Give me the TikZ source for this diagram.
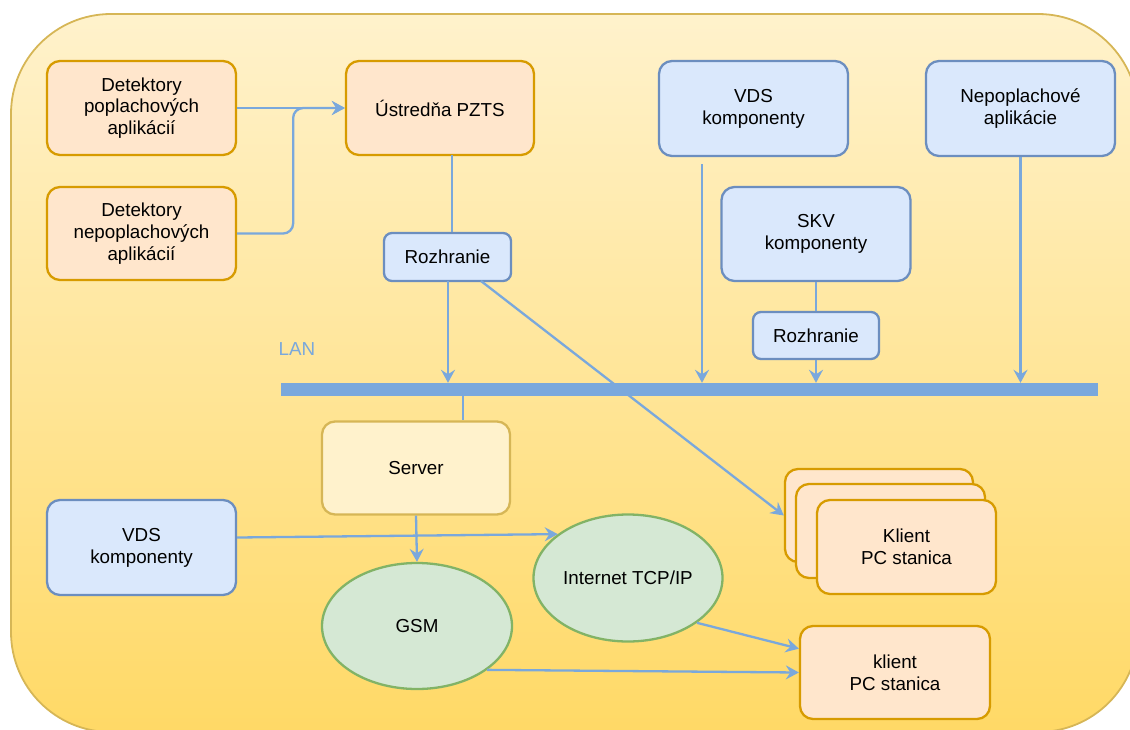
\documentclass[tikz,border=0pt]{standalone}
\usepackage{fontspec}
\setmainfont{Liberation Sans}
\usetikzlibrary{arrows.meta,calc,shapes.geometric}

\definecolor{bgtop}{HTML}{FFF2CC}
\definecolor{bgbottom}{HTML}{FFD966}
\definecolor{bgline}{HTML}{D6B656}
\definecolor{orfill}{HTML}{FFE6CC}
\definecolor{orline}{HTML}{D79B00}
\definecolor{blfill}{HTML}{DAE8FC}
\definecolor{blline}{HTML}{6C8EBF}
\definecolor{grfill}{HTML}{D5E8D4}
\definecolor{grline}{HTML}{82B366}
\definecolor{srvfill}{HTML}{FFF2CC}
\definecolor{srvline}{HTML}{D6B656}
\definecolor{linkc}{HTML}{7AA8DC}

\begin{document}
\begin{tikzpicture}[x=1pt, y=-1pt,
  txt/.style={font=\fontsize{18.8}{21.8}\selectfont, align=center},
  box/.style={txt, draw, line width=2.3pt, rounded corners=13pt, inner sep=0pt},
  smallbox/.style={box, rounded corners=8pt},
  sz/.style 2 args={minimum width=#1pt, minimum height=#2pt},
  orangebox/.style={box, fill=orfill, draw=orline},
  bluebox/.style={box, fill=blfill, draw=blline},
  bluesmall/.style={smallbox, fill=blfill, draw=blline},
  serverbox/.style={box, fill=srvfill, draw=srvline},
  cloud/.style={txt, ellipse, draw=grline, fill=grfill, line width=2.3pt, inner sep=0pt},
  conn/.style={draw=linkc, line width=2.3pt},
  arr/.style={conn, -{Stealth[length=13pt, width=14pt, inset=4.5pt]}}
]
\clip (0,0) rectangle (1130,729);

% container with vertical gradient
\path[draw=bgline, line width=1.8pt, top color=bgtop, bottom color=bgbottom,
      rounded corners=100pt] (11,14) rectangle (1138,732);

% detectors and alarm panel
\node[orangebox, sz={189}{94}] (det1) at (141.5,108) {Detektory\\poplachových\\aplikácií};
\node[orangebox, sz={189}{93}] (det2) at (141.5,233.5) {Detektory\\nepoplachových\\aplikácií};
\node[orangebox, sz={188}{94}] (ustr) at (440,108) {Ústredňa PZTS};
\node[bluesmall, sz={127}{48}] (roz1) at (447.5,257) {Rozhranie};

% other LAN components
\node[bluebox, sz={189}{95}] (vds1) at (753.5,108.5) {VDS\\komponenty};
\node[bluebox, sz={189}{95}] (nep) at (1020.5,108.5) {Nepoplachové\\aplikácie};
\node[bluebox, sz={189}{94}] (skv) at (816,234) {SKV\\komponenty};
\node[bluesmall, sz={126}{47}] (roz2) at (816,335.5) {Rozhranie};

% LAN bus
\node[fill=linkc, inner sep=0pt, sz={817}{13}] (lan) at (689.5,389.5) {};
\node[txt, text=linkc] (lanlbl) at (297,349) {LAN};

% server and networks
\node[serverbox, sz={188}{93}] (server) at (416,468) {Server};
\node[bluebox, sz={189}{95}] (vds2) at (141.5,547.5) {VDS\\komponenty};
\node[cloud, sz={190}{126}] (gsm) at (417,626) {GSM};
\node[cloud, sz={189}{127}] (inet) at (628,578) {Internet TCP/IP};

% client stations
\node[orangebox, sz={188}{93}] (klA) at (879,515.5) {};
\node[orangebox, sz={189}{94}] (klB) at (890.5,531) {};
\node[orangebox, sz={179}{94}] (klC) at (906.5,547) {Klient\\PC stanica};
\node[orangebox, sz={190}{93}] (kl) at (895,672.5) {klient\\PC stanica};

% tap points
\coordinate (ustrTap) at (452,155);
\coordinate (rozTap) at (448,281);
\coordinate (rozDiag) at (481,281);
\coordinate (vdsTap) at (702,164);
\coordinate (srvTap) at (463,396);

% connectors
\draw[arr] (det1.east) -- (ustr.west);
\draw[arr, rounded corners=10pt] (det2.east) -- ++(56,0) |- (ustr.west);
\draw[conn] (ustrTap) -- (ustrTap |- roz1.north);
\draw[arr] (rozTap) -- (rozTap |- lan.north);
\draw[arr] (rozDiag) -- (klA.west);
\draw[arr] (vdsTap) -- (vdsTap |- lan.north);
\draw[conn] (skv.south) -- (roz2.north);
\draw[arr] (roz2.south) -- (roz2.south |- lan.north);
\draw[arr] (nep.south) -- (nep.south |- lan.north);
\draw[conn] (srvTap) -- (srvTap |- server.north);
\draw[arr] (server.south) -- (gsm.north);
\draw[arr] ([yshift=10pt]vds2.east) -- (inet.148);
\draw[arr] (inet.-33) -- ($(kl.north west)!0.25!(kl.south west)$);
\draw[arr] (gsm.-32) -- (kl.west);
\end{tikzpicture}
\end{document}
